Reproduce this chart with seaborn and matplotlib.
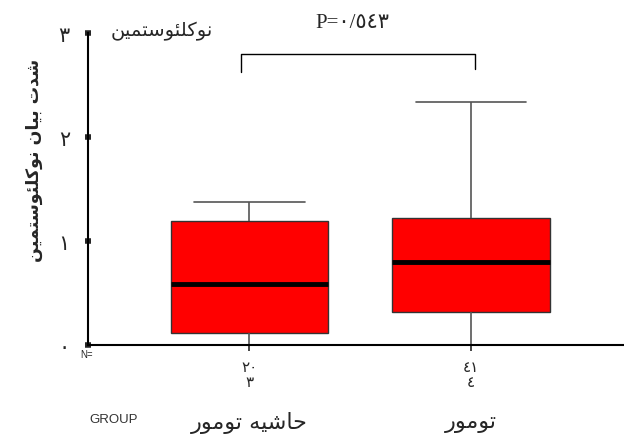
import matplotlib
matplotlib.use("Agg")
import matplotlib.pyplot as plt
import matplotlib.transforms as mtransforms
import seaborn as sns
import pandas as pd

# data
groups = ["حاشیه تومور", "تومور"]
# five number summary per group: min, q1, median, q3, max
margin_values = [0.0, 0.115, 0.59, 1.19, 1.37]
tumor_values = [0.0, 0.315, 0.80, 1.215, 2.33]
counts = ["٢٠", "٤١"]
codes = ["٣", "٤"]
yticks = [0, 1, 2, 3]
ytick_labels = ["٠", "١", "٢", "٣"]
p_text = "P=٠/٥٤٣"
ylabel = "شدت بیان نوکلئوستمین"
marker_name = "نوکلئوستمین"

# matplotlib does no arabic shaping, so pick presentation forms by hand
# (isolated, final, initial, medial); None = letter does not join to the next one
FORMS = {
    "ا": ("\uFE8D", "\uFE8E", None, None),
    "ب": ("\uFE8F", "\uFE90", "\uFE91", "\uFE92"),
    "ت": ("\uFE95", "\uFE96", "\uFE97", "\uFE98"),
    "ح": ("\uFEA1", "\uFEA2", "\uFEA3", "\uFEA4"),
    "د": ("\uFEA9", "\uFEAA", None, None),
    "ر": ("\uFEAD", "\uFEAE", None, None),
    "س": ("\uFEB1", "\uFEB2", "\uFEB3", "\uFEB4"),
    "ش": ("\uFEB5", "\uFEB6", "\uFEB7", "\uFEB8"),
    "ک": ("\uFED9", "\uFEDA", "\uFEDB", "\uFEDC"),
    "ل": ("\uFEDD", "\uFEDE", "\uFEDF", "\uFEE0"),
    "م": ("\uFEE1", "\uFEE2", "\uFEE3", "\uFEE4"),
    "ن": ("\uFEE5", "\uFEE6", "\uFEE7", "\uFEE8"),
    "ه": ("\uFEE9", "\uFEEA", "\uFEEB", "\uFEEC"),
    "و": ("\uFEED", "\uFEEE", None, None),
    "ی": ("\uFEEF", "\uFEF0", "\uFEF3", "\uFEF4"),
    "ئ": ("\uFE89", "\uFE8A", "\uFE8B", "\uFE8C"),
}


def shape(text):
    out = []
    for i, c in enumerate(text):
        if c not in FORMS:
            out.append(c)
            continue
        prev = text[i - 1] if i > 0 else None
        nxt = text[i + 1] if i + 1 < len(text) else None
        join_prev = prev in FORMS and FORMS[prev][2] is not None
        join_next = nxt in FORMS and FORMS[c][2] is not None
        iso, fin, ini, med = FORMS[c]
        if join_prev and join_next:
            out.append(med)
        elif join_prev:
            out.append(fin)
        elif join_next:
            out.append(ini)
        else:
            out.append(iso)
    return "".join(reversed(out))


df = pd.DataFrame({
    "group": [shape(groups[0])] * len(margin_values) + [shape(groups[1])] * len(tumor_values),
    "value": margin_values + tumor_values,
})

sns.set_style("white")
plt.rcParams["font.family"] = ["DejaVu Sans"]
arabic = ["DejaVu Sans"]
serif = ["Liberation Serif", "DejaVu Sans"]

fig = plt.figure(figsize=(6.24, 4.39), dpi=100)
ax = fig.add_axes([88 / 624, 93 / 439, 1 - 88 / 624, 312.5 / 439])

sns.boxplot(data=df, x="group", y="value", ax=ax,
            color="#ff0000", saturation=1, width=0.71, whis=(0, 100),
            linecolor="#333333", linewidth=1, capwidths=0.5,
            medianprops=dict(color="black", linewidth=3.5),
            whiskerprops=dict(color="#555555", linewidth=1.2),
            capprops=dict(color="#555555", linewidth=1.2))

ax.set_ylim(0, 3)
ax.set_xlim(-0.729, 1.691)
ax.set_xlabel("")
ax.set_ylabel("")
sns.despine(ax=ax)
for side in ["left", "bottom"]:
    ax.spines[side].set_color("black")
    ax.spines[side].set_linewidth(1.5)

ax.set_yticks(yticks)
ax.set_yticklabels(ytick_labels, fontsize=15, family=arabic)
ax.tick_params(axis="y", length=4, width=4, direction="inout", pad=11, left=True)
ax.set_xticks(range(len(groups)))
ax.set_xticklabels([])
ax.tick_params(axis="x", length=4, width=1.2, direction="out", bottom=True)

# bracket and p value
ax.plot([-0.036, -0.036, 1.02, 1.02], [2.62, 2.79, 2.79, 2.65],
        color="black", lw=1, clip_on=False)
ax.text(0.463, 3.1, p_text, ha="center", va="center", fontsize=15,
        family=serif, clip_on=False)
ax.text(-0.395, 3.02, shape(marker_name), ha="center", va="center",
        fontsize=14, family=arabic, clip_on=False)

# y label
fig.text(34 / 624, 1 - 160 / 439, shape(ylabel), rotation=90, ha="center",
         va="center", fontsize=12.5, fontweight="bold", family=arabic)

# counts, codes and group names under the axis
trans = mtransforms.blended_transform_factory(ax.transData, fig.transFigure)
for i in range(len(groups)):
    ax.text(i, 1 - 368 / 439, counts[i], transform=trans, ha="center",
            va="center", fontsize=11, family=arabic)
    ax.text(i, 1 - 383 / 439, codes[i], transform=trans, ha="center",
            va="center", fontsize=11, family=arabic)
    ax.text(i, 1 - 423 / 439, shape(groups[i]), transform=trans, ha="center",
            va="center", fontsize=16, family=arabic)

fig.text(87 / 624, 1 - 355 / 439, "N=", ha="center", va="center",
         fontsize=7, family=["Liberation Sans"])
fig.text(114 / 624, 1 - 420 / 439, "GROUP", ha="center", va="center",
         fontsize=9.5, color="#333333", family=["Liberation Sans"])

fig.savefig("out.png", dpi=100)
